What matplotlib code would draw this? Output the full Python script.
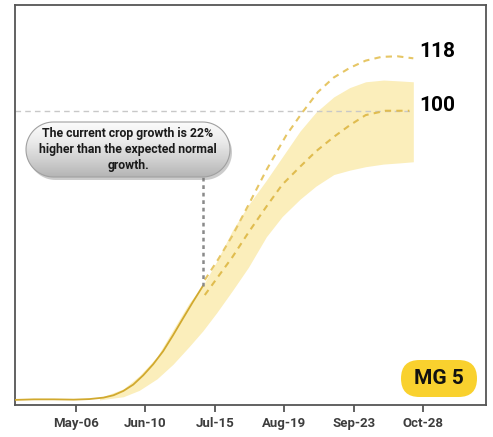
import numpy as np
import matplotlib
matplotlib.use("Agg")
import matplotlib.pyplot as plt
from matplotlib.patches import FancyBboxPatch, Polygon
from matplotlib.colors import LinearSegmentedColormap

plt.rcParams['font.family'] = ['Roboto', 'DejaVu Sans']

# day of year
tick_days = [126, 161, 196, 231, 266, 301]
tick_labels = ["May-06", "Jun-10", "Jul-15", "Aug-19", "Sep-23", "Oct-28"]

# current crop growth
cur_days = [95, 105, 115, 125, 133, 140, 145, 150, 155, 160, 165, 170, 175, 180, 185, 190]
cur_vals = [0.2, 0.4, 0.4, 0.3, 0.5, 1.0, 1.8, 3.3, 5.5, 8.7, 12.5, 17.0, 22.5, 28.3, 34.0, 39.5]

# expected range band
band_days = [138, 150, 158, 167, 175, 183, 190, 197, 205, 213, 222, 230, 239, 247, 256, 264, 272, 281, 289, 296]
band_low = [0.2, 1.3, 3.5, 7.5, 12.5, 18.5, 24, 30.3, 38, 46, 56.5, 63.5, 69.5, 74, 78, 79.5, 80.7, 81.6, 82, 82.4]
band_high = [0.9, 4.0, 8.5, 15.1, 24.4, 33.5, 39.6, 48, 58.8, 67.5, 76, 84, 93, 99.5, 104.8, 108, 110, 110.6, 110.3, 110.0]

# projections
norm_days = [191, 198, 205, 213, 222, 230, 239, 247, 256, 264, 272, 282, 294]
norm_vals = [36.4, 43, 49.6, 58, 66.9, 74.5, 80.7, 86, 91.0, 95, 98.5, 100, 100]
high_days = [191, 198, 205, 213, 222, 232, 240, 248, 256, 264, 272, 280, 288, 296]
high_vals = [41.6, 49, 57, 67.5, 79.5, 91.5, 99.3, 106.5, 111.5, 114.8, 117.3, 118.6, 118.8, 118.1]

W, H = 493, 437
fig = plt.figure(figsize=(W / 100, H / 100), dpi=100)
ax = fig.add_axes([14.7 / W, 1 - 405 / H, (486 - 14.7) / W, 400 / H])

ax.fill_between(band_days, band_low, band_high, color="#FBEEBB", lw=0, zorder=1)
ax.plot([95.3, 296], [100, 100], color="#c8c8c8", lw=1, ls=(0, (4, 3)), zorder=2)
ax.plot(cur_days, cur_vals, color="#D1A92E", lw=1.3, zorder=3)
ax.plot(norm_days, norm_vals, color="#E0BC4F", lw=1.5, ls=(0, (3, 2.5)), zorder=3)
ax.plot(high_days, high_vals, color="#E6C665", lw=1.5, ls=(0, (3, 2.5)), zorder=3)
ax.plot([cur_days[-1], cur_days[-1]], [cur_vals[-1], 77], color="#8a8a8a", lw=1.8,
        ls=(0, (1.5, 1.5)), zorder=3)

ax.text(298.9, 120.3, "118", fontsize=15, fontweight="bold", va="center", ha="left")
ax.text(298.9, 101.7, "100", fontsize=15, fontweight="bold", va="center", ha="left")

ax.set_xlim(95.3, 332.6)
ax.set_ylim(-1.55, 136.5)
ax.set_yticks([])
ax.set_xticks(tick_days, tick_labels)
ax.tick_params(axis="x", length=5, width=1.3, color="#555555", pad=3.5,
               labelsize=9.5, labelcolor="#3d3d3d")
for lab in ax.get_xticklabels():
    lab.set_fontweight("bold")
for sp in ax.spines.values():
    sp.set_color("#555555")
    sp.set_linewidth(1.3)

# overlay in pixel units for callouts
ov = fig.add_axes([0, 0, 1, 1])
ov.axis("off")


def stadium(x0, y0, w, h):
    r = h / 2
    t = np.linspace(-np.pi / 2, np.pi / 2, 40)
    right = np.column_stack([x0 + w - r + r * np.cos(t), y0 + r + r * np.sin(t)])
    left = np.column_stack([x0 + r - r * np.cos(t), y0 + r - r * np.sin(t)])
    return np.vstack([right, left])


shadow = Polygon(stadium(28, 125, 204, 55), closed=True, fc="#6f6f6f", ec="none", alpha=0.35)
ov.add_patch(shadow)
pill = Polygon(stadium(26, 122, 204, 55), closed=True, fc="none", ec="#a0a0a0", lw=0.8, zorder=3)
ov.add_patch(pill)
cm = LinearSegmentedColormap.from_list("g", ["#fbfbfb", "#ececec", "#d2d2d2", "#b5b5b5"])
im = ov.imshow(np.linspace(0, 1, 64).reshape(-1, 1), cmap=cm, extent=(26, 230, 177, 122),
               aspect="auto", zorder=2)
im.set_clip_path(pill)
ov.text(128, 149.5, "The current crop growth is 22%\nhigher than the expected normal\ngrowth.",
        ha="center", va="center", fontsize=8.8, fontweight="bold", color="#1a1a1a",
        linespacing=1.28, zorder=4)

badge = FancyBboxPatch((401, 360), 76, 37, boxstyle="round,pad=0,rounding_size=18.5",
                       fc="#F9D12E", ec="none")
ov.add_patch(badge)
ov.text(439, 379, "MG 5", ha="center", va="center", fontsize=15, fontweight="bold", color="#111111")

ov.set_xlim(0, W)
ov.set_ylim(H, 0)

fig.savefig("out.png", dpi=100)
